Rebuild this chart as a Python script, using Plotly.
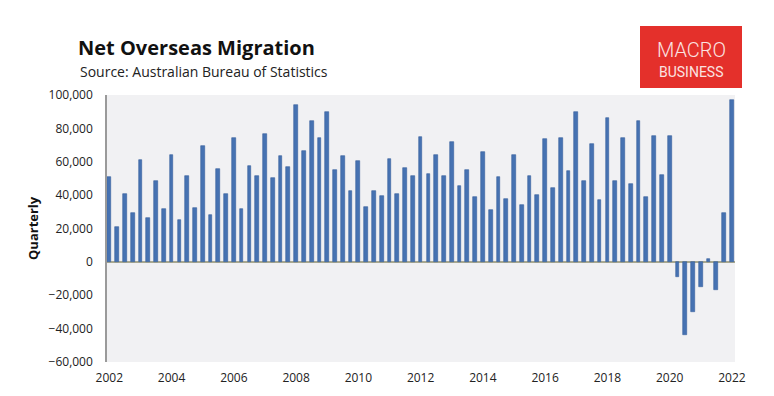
import plotly.graph_objects as go

# ---- data -------------------------------------------------------------
start_year = 2002
quarter_step = 0.25
values = [
    51100, 21100, 40800, 29300, 61300, 26300, 48600, 31400,
    63900, 24900, 51500, 32400, 69700, 27900, 55900, 40400,
    74400, 31800, 57500, 51300, 76800, 50100, 63300, 56700,
    94300, 66300, 84600, 74000, 89600, 55100, 63300, 42600,
    60700, 32800, 42600, 39200, 61700, 40400, 56300, 51500,
    75000, 52700, 64300, 51700, 72000, 45600, 54900, 39000,
    66100, 31200, 50900, 37800, 64300, 34000, 51300, 40200,
    73400, 44200, 74400, 54700, 89600, 48200, 70400, 36800,
    86000, 48200, 74400, 46400, 84200, 39000, 75200, 52100,
    75600, -9200, -43800, -29900, -14900, 1800, -17100, 29500,
    96900,
]
quarters = [start_year + i * quarter_step for i in range(len(values))]
tick_years = [2002, 2004, 2006, 2008, 2010, 2012, 2014, 2016, 2018, 2020, 2022]
y_ticks = [-60000, -40000, -20000, 0, 20000, 40000, 60000, 80000, 100000]
title_text = "Net Overseas Migration"
source_text = "Source: Australian Bureau of Statistics"
y_title = "Quarterly"

# ---- layout geometry (page pixels; page body has an 8px margin) -------
OFF = 8
W, H = 774 - 2 * OFF, 396 - 2 * OFF
L, R, T, B = 107, 735, 95, 362  # plot area in page pixels


def px(x):
    return (x - L) / (R - L)


def py(y):
    return (B - y) / (B - T)


FONT = "Open Sans"

fig = go.Figure()
fig.add_trace(go.Bar(
    x=quarters,
    y=values,
    width=0.12,
    marker=dict(color="#4672b2", line=dict(color="#35609e", width=0.6)),
    hoverinfo="x+y",
))

fig.update_layout(
    width=W, height=H,
    margin=dict(l=L - OFF, r=(W + OFF) - R, t=T - OFF, b=(H + OFF) - B,
                pad=0, autoexpand=False),
    paper_bgcolor="white",
    plot_bgcolor="#f1f1f3",
    showlegend=False,
    bargap=0,
    font=dict(family=FONT, size=12, color="#222222"),
    xaxis=dict(
        range=[2001.925, 2022.1],
        automargin=False,
        tickmode="array",
        tickvals=tick_years,
        ticktext=[str(y) for y in tick_years],
        showgrid=False,
        zeroline=False,
        showline=False,
        ticks="outside",
        ticklen=5,
        tickcolor="rgba(0,0,0,0)",
        tickfont=dict(family=FONT, size=12, color="#222222"),
    ),
    yaxis=dict(
        range=[-60000, 100000],
        automargin=False,
        tickmode="array",
        tickvals=y_ticks,
        tickformat=",",
        showgrid=False,
        zeroline=True,
        zerolinecolor="#a8a890",
        zerolinewidth=1.5,
        showline=True,
        linecolor="#9a9a9a",
        linewidth=1.5,
        ticks="outside",
        ticklen=10,
        tickcolor="rgba(0,0,0,0)",
        tickfont=dict(family=FONT, size=12, color="#222222"),
    ),
)

# titles
fig.add_annotation(
    x=px(76), y=py(47), xref="paper", yref="paper",
    text="<b>" + title_text + "</b>", showarrow=False,
    xanchor="left", yanchor="middle",
    font=dict(family=FONT, size=20, color="#111111"),
)
fig.add_annotation(
    x=px(78), y=py(71), xref="paper", yref="paper",
    text=source_text, showarrow=False,
    xanchor="left", yanchor="middle",
    font=dict(family=FONT, size=14, color="#222222"),
)
fig.add_annotation(
    x=px(33), y=py(228), xref="paper", yref="paper",
    text="<b>" + y_title + "</b>", showarrow=False, textangle=-90,
    xanchor="center", yanchor="middle",
    font=dict(family=FONT, size=13, color="#111111"),
)

# MacroBusiness logo
fig.add_shape(
    type="rect", xref="paper", yref="paper",
    x0=px(640), x1=px(742), y0=py(88), y1=py(26),
    fillcolor="#e4302b", line=dict(width=0), layer="above",
)
fig.add_annotation(
    x=px(691), y=py(50), xref="paper", yref="paper",
    text="MACRO", showarrow=False, xanchor="center", yanchor="middle",
    font=dict(family="Roboto", size=20, color="#fbe3e1", weight=300),
    borderpad=0,
)
fig.add_annotation(
    x=px(691), y=py(72), xref="paper", yref="paper",
    text="BUSINESS", showarrow=False, xanchor="center", yanchor="middle",
    font=dict(family="Roboto", size=14, color="#fbe3e1", weight=400),
    borderpad=0,
)

fig.write_html("out.html")
